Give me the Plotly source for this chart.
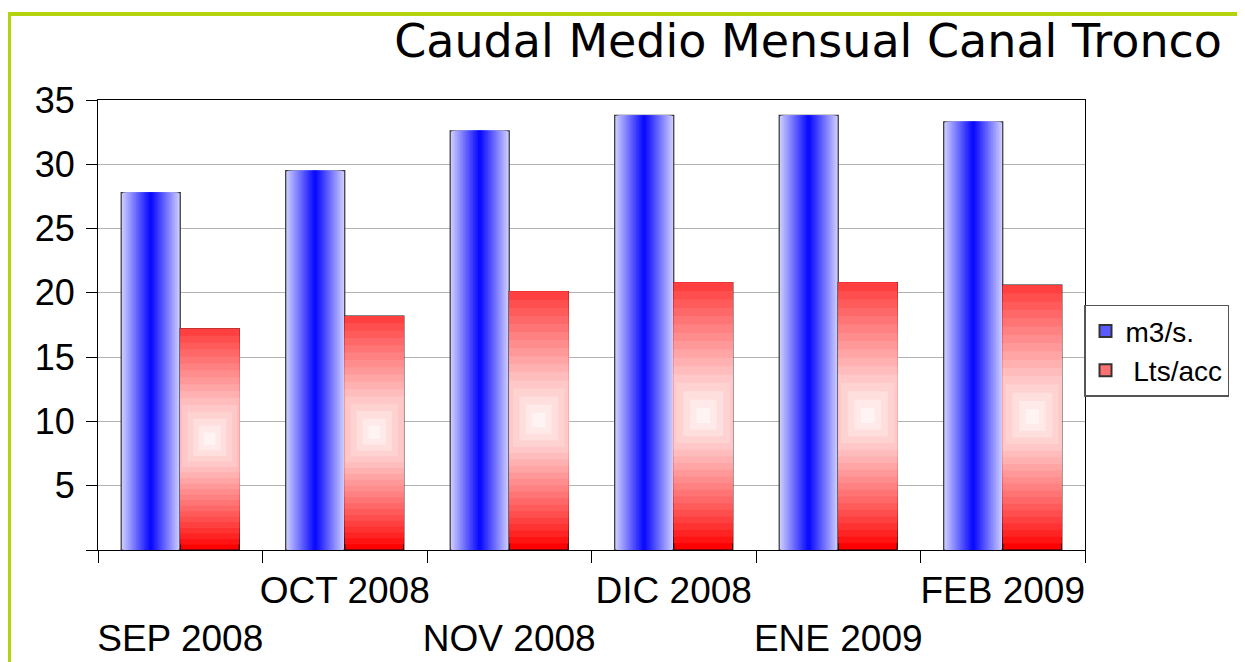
import plotly.graph_objects as go

# ---- data ----
months = ["SEP 2008", "OCT 2008", "NOV 2008", "DIC 2008", "ENE 2009", "FEB 2009"]
caudal_m3s = [27.8, 29.5, 32.6, 33.8, 33.8, 33.3]
lts_acc = [17.2, 18.2, 20.1, 20.8, 20.8, 20.6]
series_names = ["m3/s.", "\u00a0Lts/acc"]
y_tickvals = [0, 5, 10, 15, 20, 25, 30, 35]
y_ticktext = ["", "5", "10", "15", "20", "25", "30", "35"]

# staggered category labels (odd ones on second line)
x_ticktext = [("<br>" + m) if i % 2 == 0 else m for i, m in enumerate(months)]

# ---- styling constants ----
BAR_W = 0.359          # width of one bar in category units
PX_PER_CAT = 164.5     # approx pixels per category
PX_PER_UNIT = 450 / 35 # approx pixels per y unit
N_BLUE = 18
N_RED = 20

fig = go.Figure()

# blue bars: horizontal gradient (light edges -> saturated center)
for k in range(N_BLUE):
    p = 1 - k / N_BLUE          # half-width fraction of this layer
    w = BAR_W * p
    r = int(205 * p)
    col = f"rgb({r},{r},255)"
    fig.add_trace(go.Bar(
        x=months, y=caudal_m3s,
        width=w, offset=-BAR_W / 2 - w / 2,
        marker=dict(color=col,
                    line=dict(color="#333333", width=1.2 if k == 0 else 0)),
        showlegend=False, hoverinfo="skip",
    ))

# red bars: diamond-like gradient (red outside -> white at middle)
for k in range(N_RED):
    d = 1 - k / N_RED
    bases = [v / 2 - d * v / 2 for v in lts_acc]
    tops = [min(v, v / 2 + 1.25 * d * v / 2) for v in lts_acc]
    heights = [t - b for t, b in zip(tops, bases)]
    widths = [min(BAR_W, 2 * d * (v * PX_PER_UNIT / 2) / PX_PER_CAT) for v in lts_acc]
    offs = [BAR_W / 2 - w / 2 for w in widths]
    g = int(255 * (1 - d) ** 0.85)
    col = f"rgb(255,{g},{g})"
    fig.add_trace(go.Bar(
        x=months, y=heights, base=bases,
        width=widths, offset=offs,
        marker=dict(color=col,
                    line=dict(color="#111111", width=1.2 if k == 0 else 0)),
        showlegend=False, hoverinfo="skip",
    ))

# legend proxies
fig.add_trace(go.Bar(x=[None], y=[None], name=series_names[0],
                     marker=dict(color="#5a5aff", line=dict(color="#333333", width=1))))
fig.add_trace(go.Bar(x=[None], y=[None], name=series_names[1],
                     marker=dict(color="#ff7070", line=dict(color="#333333", width=1))))

L, T, PW, PH = 90, 92, 987, 450
BORDER = "#b5d20e"
TOP_Y = 6   # figure-pixel row of the top border
fig.update_layout(
    width=1245, height=662,
    barmode="overlay",
    bargap=0.283,
    paper_bgcolor="white", plot_bgcolor="white",
    margin=dict(l=L, r=1245 - L - PW, t=T, b=662 - T - PH, autoexpand=False),
    title=dict(text="Caudal Medio Mensual Canal Tronco",
               font=dict(family="DejaVu Sans", size=46, color="black"),
               x=1214 / 1245, xanchor="right", xref="container",
               y=1 - 33 / 662, yanchor="middle"),
    font=dict(family="Liberation Sans", color="black"),
    legend=dict(x=0.999, xanchor="left", y=0.545, yanchor="top",
                bgcolor="white", bordercolor="#555555", borderwidth=1.5,
                font=dict(family="Liberation Sans", size=28, color="black"),
                itemsizing="constant"),
    xaxis=dict(type="category", tickmode="array", tickvals=months, ticktext=x_ticktext,
               tickson="boundaries", ticks="outside", ticklen=12, tickcolor="black",
               tickangle=0, automargin=False, ticklabelstandoff=7,
               showline=True, linecolor="black", linewidth=1.2, mirror=True,
               showgrid=False, tickfont=dict(size=37, family="Liberation Sans"),
               range=[-0.5, 5.5], fixedrange=True),
    yaxis=dict(range=[0, 35], tickmode="array", tickvals=y_tickvals, ticktext=y_ticktext,
               ticks="outside", ticklen=11, tickcolor="black", automargin=False,
               showline=True, linecolor="black", linewidth=1.2, mirror=True,
               showgrid=True, gridcolor="#b3b3b3", gridwidth=1,
               tickfont=dict(size=36, family="Liberation Sans"),
               ticklabelstandoff=4, zeroline=False, fixedrange=True),
    shapes=[
        dict(type="rect", xref="paper", yref="paper",
             x0=(-1 - L) / PW, x1=(1245 - L) / PW,
             y0=(T + PH - TOP_Y - 2) / PH, y1=(T + PH - TOP_Y + 2) / PH,
             fillcolor=BORDER, line=dict(width=0), layer="above"),
        dict(type="rect", xref="paper", yref="paper",
             x0=(-1 - L) / PW, x1=(3 - L) / PW,
             y0=(T + PH - 662) / PH, y1=(T + PH - TOP_Y + 2) / PH,
             fillcolor=BORDER, line=dict(width=0), layer="above"),
    ],
)

fig.write_html("out.html")
